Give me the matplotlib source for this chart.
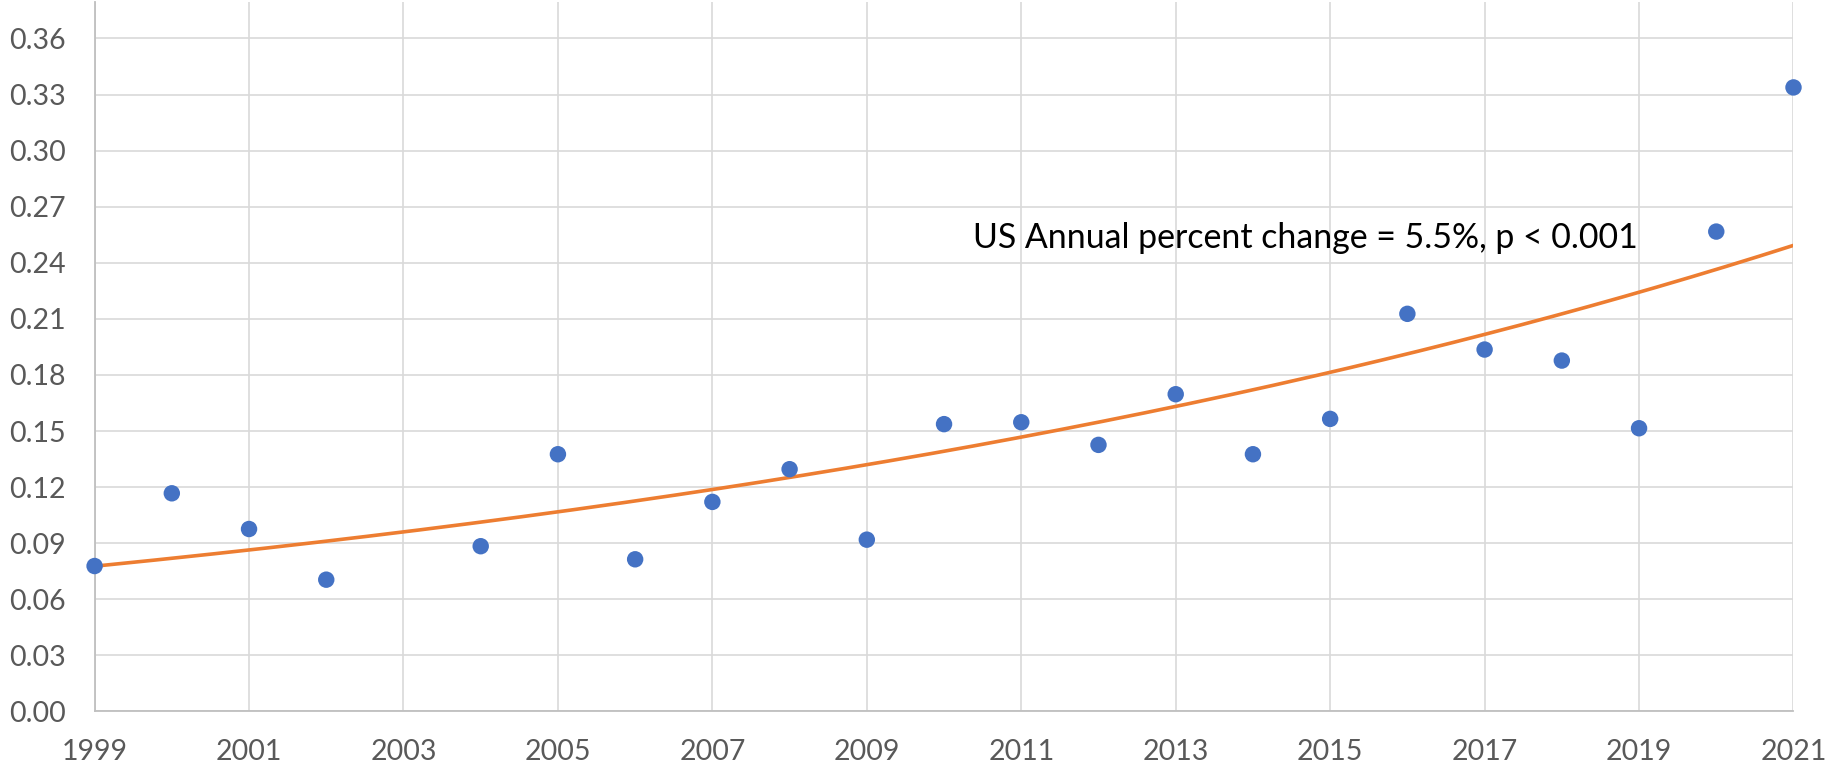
import numpy as np
import matplotlib
matplotlib.use("Agg")
import matplotlib.pyplot as plt

# data
years = np.arange(1999, 2022)
rates = [0.0778, 0.1167, 0.0976, 0.0705, None, 0.0884, 0.1376, 0.0814,
         0.1121, 0.1296, 0.0919, 0.1537, 0.1547, 0.1426, 0.1697, 0.1376,
         0.1565, 0.2127, 0.1936, 0.1877, 0.1515, 0.2567, 0.3338]
# trend line as read at the gridlines
trend_years = [1999, 2001, 2003, 2005, 2007, 2009, 2011, 2013, 2015, 2017, 2019, 2021]
trend_vals = [0.0780, 0.0864, 0.0959, 0.1066, 0.1189, 0.1315, 0.1467, 0.1631,
              0.1815, 0.2018, 0.2244, 0.2496]
year_ticks = list(range(1999, 2022, 2))
y_ticks = [0.00, 0.03, 0.06, 0.09, 0.12, 0.15, 0.18, 0.21, 0.24, 0.27, 0.30, 0.33, 0.36]
note = "US Annual percent change = 5.5%, p < 0.001"

# 2003 has no point in the chart
mask = np.array([r is not None for r in rates])
xs = years[mask]
ys = np.array([r for r in rates if r is not None], dtype=float)

# exponential (annual percent change) curve through the read trend values
slope, icpt = np.polyfit(np.array(trend_years) - 1999, np.log(trend_vals), 1)
tx = np.linspace(1999, 2021, 200)
ty = np.exp(icpt + slope * (tx - 1999))

plt.rcParams["font.family"] = ["Lato", "DejaVu Sans"]
fig = plt.figure(figsize=(18.26, 7.68), dpi=100)
ax = fig.add_axes([0.0518, 0.0736, 0.9304, 0.9238])

ax.plot(tx, ty, color="#ED7D31", linewidth=2.6, zorder=2)
ax.scatter(xs, ys, s=140, color="#4472C4", edgecolors="none", zorder=3, clip_on=False)

ax.set_xlim(1999, 2021)
ax.set_ylim(0, 0.3795)
ax.set_xticks(year_ticks)
ax.set_yticks(y_ticks)
ax.set_yticklabels([f"{v:.2f}" for v in y_ticks])
ax.grid(True, color="#d9d9d9", linewidth=1.2, zorder=0)
ax.set_axisbelow(True)
ax.tick_params(length=0, labelsize=20.5, colors="#595959")
ax.tick_params(axis="y", pad=21)
ax.tick_params(axis="x", pad=20)
for side in ["top", "right"]:
    ax.spines[side].set_visible(False)
for side in ["left", "bottom"]:
    ax.spines[side].set_color("#bfbfbf")
    ax.spines[side].set_linewidth(1.3)

ax.text(2010.38, 0.2533, note, fontsize=24.4, color="black", ha="left", va="center")

fig.savefig("out.png", dpi=100)
